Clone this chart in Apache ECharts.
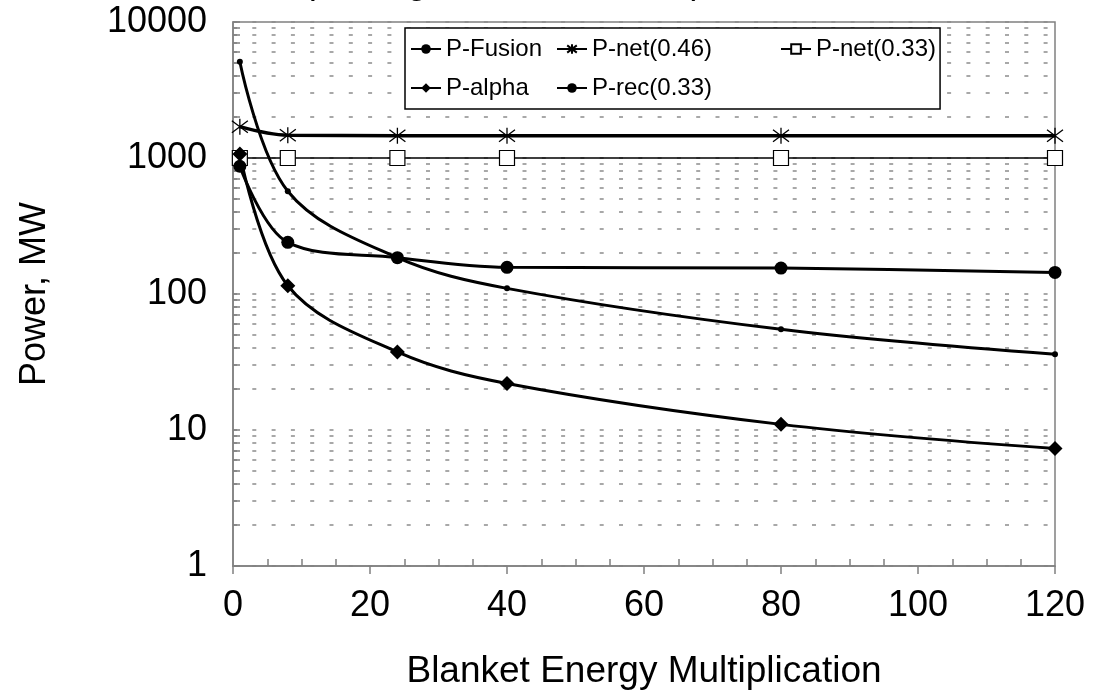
<!DOCTYPE html>
<html>
<head>
<meta charset="utf-8">
<script src="https://cdn.jsdelivr.net/npm/echarts@6/dist/echarts.min.js"></script>
<style>
  html, body {margin: 0; padding: 0; background: #fff;}
  #chart {width: 1094px; height: 696px;}
</style>
</head>
<body>
<div id="chart"></div>
<script>
const blanketMult = [1, 8, 24, 40, 80, 120];
const pFusion = [5100, 570, 185, 110, 55, 36];
const pNet46 = [1700, 1470, 1460, 1460, 1460, 1460];
const pNet33 = [1000, 1000, 1000, 1000, 1000, 1000];
const pAlpha = [1070, 115, 37.5, 22, 11, 7.3];
const pRec = [870, 240, 185, 157, 155, 144];
const yLabels = [1, 10, 100, 1000, 10000];

// minor grid / ticks on the log axis: 1..9 x each decade
const logGrid = [];
yLabels.forEach(d => {
  for (let m = 1; m <= 9; m++) if (d * m <= 10000) logGrid.push(d * m);
});
const xMinor = [];
for (let v = 5; v < 120; v += 5) if (v % 20) xMinor.push(v);

const font = 'Liberation Sans, Arial, sans-serif';
const pairs = arr => blanketMult.map((x, i) => [x, arr[i]]);
const starPath = 'path://M0,-10L0,10M-7.5,-7.5L7.5,7.5M-7.5,7.5L7.5,-7.5';

const chart = echarts.init(document.getElementById('chart'));
chart.setOption({
  animation: false,
  textStyle: {fontFamily: font},
  title: {
    text: '(Driving, Fusion Reactor)',
    left: 298,
    top: -40,
    textStyle: {fontSize: 36, fontWeight: 'normal', color: '#000', fontFamily: font}
  },
  legend: {
    left: 405,
    top: 28,
    width: 545,
    padding: [4, 4, 4, 5],
    itemGap: 5,
    itemWidth: 30,
    itemHeight: 12,
    borderColor: '#000',
    borderWidth: 1.5,
    backgroundColor: '#fff',
    textStyle: {fontSize: 24, color: '#000', lineHeight: 34, fontFamily: font},
    data: [
      {name: 'P-Fusion', textStyle: {width: 105}},
      {name: 'P-net(0.46)', textStyle: {width: 183}},
      {name: 'P-net(0.33)', textStyle: {width: 120}},
      {name: 'P-alpha', textStyle: {width: 105}},
      {name: 'P-rec(0.33)', textStyle: {width: 183}}
    ]
  },
  grid: {
    left: 233, right: 39, top: 22, bottom: 130,
    show: true, borderColor: '#808080', borderWidth: 1.5
  },
  xAxis: [
    {
      type: 'value', min: 0, max: 120, interval: 20, position: 'bottom',
      name: 'Blanket Energy Multiplication', nameLocation: 'middle', nameGap: 87,
      nameTextStyle: {fontSize: 37, color: '#000', fontFamily: font},
      axisLine: {lineStyle: {color: '#808080', width: 1.5}},
      axisTick: {length: 8, lineStyle: {color: '#808080', width: 1.5}},
      axisLabel: {fontSize: 36, color: '#000', margin: 22},
      splitLine: {show: false}
    },
    {
      type: 'value', min: 0, max: 120, position: 'bottom',
      axisLine: {show: false},
      axisTick: {show: true, inside: true, length: 7, customValues: xMinor,
        lineStyle: {color: '#808080', width: 1.5}},
      axisLabel: {show: false},
      splitLine: {show: false}
    }
  ],
  yAxis: {
    type: 'log', min: 1, max: 10000, logBase: 10,
    name: 'Power, MW', nameLocation: 'middle', nameGap: 180,
    nameTextStyle: {fontSize: 36, color: '#000', fontFamily: font},
    axisLine: {show: true, lineStyle: {color: '#808080', width: 1.5}},
    axisTick: {show: true, inside: true, length: 7, customValues: logGrid,
      lineStyle: {color: '#808080', width: 1.5}},
    axisLabel: {fontSize: 36, color: '#000', margin: 26, customValues: yLabels,
      formatter: v => String(Math.round(v))},
    splitLine: {show: true, lineStyle: {color: '#8c8c8c', width: 1.5, type: [4, 15.3]}}
  },
  series: [
    {
      name: 'P-Fusion', data: pairs(pFusion),
      symbol: 'circle', symbolSize: 6, lineStyle: {width: 3}
    },
    {
      name: 'P-net(0.46)', data: pairs(pNet46),
      symbol: starPath, symbolSize: 16, lineStyle: {width: 3.5},
      itemStyle: {color: '#000', borderColor: '#000', borderWidth: 1.3}
    },
    {
      name: 'P-net(0.33)', data: pairs(pNet33),
      symbol: 'rect', symbolSize: 15, lineStyle: {width: 1.5},
      itemStyle: {color: '#fff', borderColor: '#000', borderWidth: 1.2}
    },
    {
      name: 'P-alpha', data: pairs(pAlpha),
      symbol: 'diamond', symbolSize: 15, lineStyle: {width: 3}
    },
    {
      name: 'P-rec(0.33)', data: pairs(pRec),
      symbol: 'circle', symbolSize: 13, lineStyle: {width: 3}
    }
  ].map(s => ({
    type: 'line',
    smooth: 0.35,
    showAllSymbol: true,
    ...s,
    itemStyle: Object.assign({color: '#000'}, s.itemStyle),
    lineStyle: Object.assign({color: '#000'}, s.lineStyle)
  }))
});
</script>
</body>
</html>
